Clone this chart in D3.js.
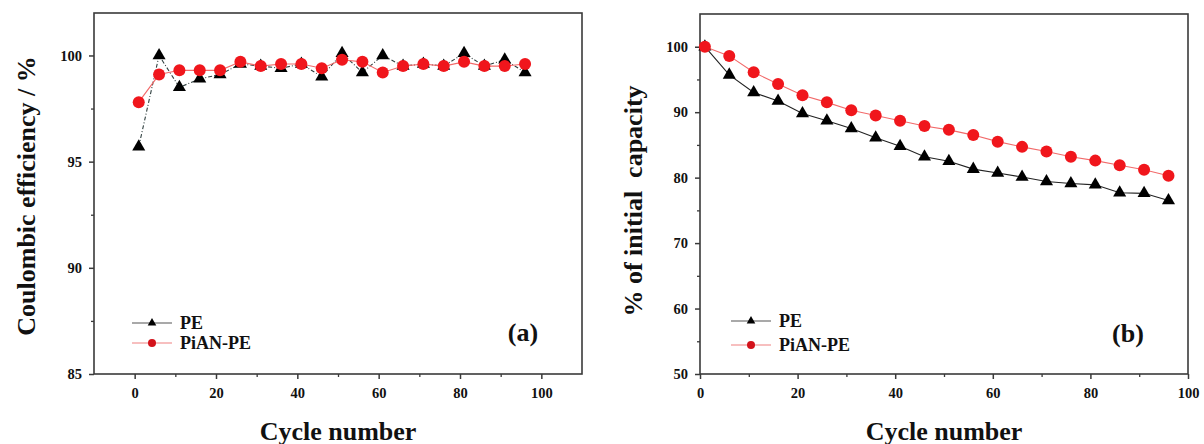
<!DOCTYPE html>
<html>
<head>
<meta charset="utf-8">
<script src="https://cdn.jsdelivr.net/npm/d3@7/dist/d3.min.js"></script>
<style>
  html, body { margin: 0; padding: 0; background: #ffffff; }
  svg { display: block; }
  text { font-family: "Liberation Serif", "Times New Roman", serif; font-weight: bold; fill: #111; }
</style>
</head>
<body>
<svg id="chart" width="1204" height="444"></svg>
<script>
// ---------- data ----------
const cycles = [1, 6, 11, 16, 21, 26, 31, 36, 41, 46, 51, 56, 61, 66, 71, 76, 81, 86, 91, 96];

// panel (a): coulombic efficiency, %
const cePE    = [95.7, 100.0, 98.5, 98.9, 99.1, 99.6, 99.5, 99.4, 99.6, 99.0, 100.1, 99.2, 100.0, 99.5, 99.6, 99.5, 100.1, 99.5, 99.8, 99.2];
const cePiAN  = [97.8, 99.1, 99.3, 99.3, 99.3, 99.7, 99.5, 99.6, 99.6, 99.4, 99.8, 99.7, 99.2, 99.5, 99.6, 99.5, 99.7, 99.5, 99.5, 99.6];

// panel (b): % of initial capacity
const capPE   = [100.0, 95.7, 93.0, 91.7, 89.8, 88.7, 87.5, 86.1, 84.8, 83.2, 82.5, 81.3, 80.7, 80.1, 79.4, 79.1, 78.9, 77.7, 77.6, 76.5];
const capPiAN = [100.0, 98.6, 96.1, 94.3, 92.6, 91.5, 90.3, 89.5, 88.7, 87.9, 87.3, 86.5, 85.5, 84.7, 84.0, 83.2, 82.6, 81.9, 81.2, 80.3];

const seriesNames = ["PE", "PiAN-PE"];
const xTicksA = [0, 20, 40, 60, 80, 100];
const xMinorA = [10, 30, 50, 70, 90];
const yTicksA = [85, 90, 95, 100];
const yMinorA = [87.5, 92.5, 97.5];
const xTicksB = [0, 20, 40, 60, 80, 100];
const xMinorB = [10, 30, 50, 70, 90];
const yTicksB = [50, 60, 70, 80, 90, 100];
const yMinorB = [55, 65, 75, 85, 95];

// ---------- drawing ----------
const svg = d3.select("#chart");
const axisColor = "#3a3a3a";

function panel(cfg) {
  const g = svg.append("g");
  const x = d3.scaleLinear().domain(cfg.xDomain).range([cfg.left, cfg.right]);
  const y = d3.scaleLinear().domain(cfg.yDomain).range([cfg.bottom, cfg.top]);

  // frame
  g.append("rect")
    .attr("x", cfg.left).attr("y", cfg.top)
    .attr("width", cfg.right - cfg.left).attr("height", cfg.bottom - cfg.top)
    .attr("fill", "none").attr("stroke", axisColor).attr("stroke-width", 1.6);

  // minor ticks
  g.append("g").attr("transform", `translate(0,${cfg.bottom})`)
    .call(d3.axisBottom(x).tickValues(cfg.xMinor).tickSize(3).tickFormat(""))
    .call(a => a.select(".domain").remove())
    .call(a => a.selectAll("line").attr("stroke", axisColor).attr("stroke-width", 1.3));
  g.append("g").attr("transform", `translate(${cfg.left},0)`)
    .call(d3.axisLeft(y).tickValues(cfg.yMinor).tickSize(3).tickFormat(""))
    .call(a => a.select(".domain").remove())
    .call(a => a.selectAll("line").attr("stroke", axisColor).attr("stroke-width", 1.3));

  // major ticks
  g.append("g").attr("transform", `translate(0,${cfg.bottom})`)
    .call(d3.axisBottom(x).tickValues(cfg.xTicks).tickSize(5).tickPadding(9).tickFormat(d3.format("d")))
    .call(a => a.select(".domain").remove())
    .call(a => a.selectAll("line").attr("stroke", axisColor).attr("stroke-width", 1.5))
    .call(a => a.selectAll("text").attr("font-size", 14.5).attr("font-family", "Liberation Serif").attr("font-weight", "bold").attr("fill", "#111"));
  g.append("g").attr("transform", `translate(${cfg.left},0)`)
    .call(d3.axisLeft(y).tickValues(cfg.yTicks).tickSize(5).tickPadding(7).tickFormat(d3.format("d")))
    .call(a => a.select(".domain").remove())
    .call(a => a.selectAll("line").attr("stroke", axisColor).attr("stroke-width", 1.5))
    .call(a => a.selectAll("text").attr("font-size", 14.5).attr("font-family", "Liberation Serif").attr("font-weight", "bold").attr("fill", "#111"));

  const tri = d3.symbol().type(d3.symbolTriangle).size(74);
  const triSmall = d3.symbol().type(d3.symbolTriangle).size(32);

  // PE series
  const line = d3.line().x((d, i) => x(cycles[i])).y(d => y(d));
  g.append("path").datum(cfg.pe).attr("d", line)
    .attr("fill", "none").attr("stroke", cfg.peLine).attr("stroke-width", 1.1)
    .attr("stroke-dasharray", cfg.peDash || null);
  g.append("g").selectAll("path").data(cfg.pe).join("path")
    .attr("d", tri)
    .attr("transform", (d, i) => `translate(${x(cycles[i])},${y(d)})`)
    .attr("fill", "#000");

  // PiAN-PE series
  g.append("path").datum(cfg.pian).attr("d", line)
    .attr("fill", "none").attr("stroke", "#f26a6a").attr("stroke-width", 1.1);
  g.append("g").selectAll("circle").data(cfg.pian).join("circle")
    .attr("cx", (d, i) => x(cycles[i])).attr("cy", d => y(d)).attr("r", 6)
    .attr("fill", "#f0161c");

  // legend
  const lg = g.append("g");
  const items = [
    { name: seriesNames[0], y: cfg.legY[0], color: "#555", kind: "tri" },
    { name: seriesNames[1], y: cfg.legY[1], color: "#f08080", kind: "circ" }
  ];
  items.forEach(it => {
    lg.append("line").attr("x1", cfg.legX).attr("x2", cfg.legX + 40)
      .attr("y1", it.y).attr("y2", it.y).attr("stroke", it.color).attr("stroke-width", 1.2);
    if (it.kind === "tri") {
      lg.append("path").attr("d", triSmall).attr("transform", `translate(${cfg.legX + 20},${it.y})`).attr("fill", "#000");
    } else {
      lg.append("circle").attr("cx", cfg.legX + 20).attr("cy", it.y).attr("r", 4).attr("fill", "#d3121a");
    }
    lg.append("text").attr("x", cfg.legX + 48).attr("y", it.y)
      .attr("dominant-baseline", "central").attr("font-size", 18).text(it.name);
  });

  // panel label
  g.append("text").attr("x", cfg.tagX).attr("y", cfg.tagY)
    .attr("text-anchor", "middle").attr("dominant-baseline", "central")
    .attr("font-size", 26).text(cfg.tag);

  // axis titles
  g.append("text").attr("x", (cfg.left + cfg.right) / 2).attr("y", 431)
    .attr("text-anchor", "middle").attr("dominant-baseline", "central")
    .attr("font-size", 26).text("Cycle number");
  g.append("text")
    .attr("transform", `translate(${cfg.yTitleX},${cfg.yTitleY}) rotate(-90)`)
    .attr("text-anchor", "middle").attr("dominant-baseline", "central")
    .attr("font-size", cfg.yTitleSize).style("white-space", "pre")
    .text(cfg.yTitle);
}

panel({
  left: 94, right: 582, top: 13, bottom: 374,
  xDomain: [-10, 110], yDomain: [85, 102],
  xTicks: xTicksA, xMinor: xMinorA, yTicks: yTicksA, yMinor: yMinorA,
  pe: cePE, pian: cePiAN, peLine: "#2f3f3f", peDash: "4,2,1,2",
  legX: 132, legY: [323, 343],
  tag: "(a)", tagX: 523, tagY: 332,
  yTitle: "Coulombic efficiency / %", yTitleX: 26, yTitleY: 196, yTitleSize: 26
});

panel({
  left: 700, right: 1188, top: 14, bottom: 374,
  xDomain: [0, 100], yDomain: [50, 105],
  xTicks: xTicksB, xMinor: xMinorB, yTicks: yTicksB, yMinor: yMinorB,
  pe: capPE, pian: capPiAN, peLine: "#222",
  legX: 731, legY: [321, 345],
  tag: "(b)", tagX: 1128, tagY: 333,
  yTitle: "% of initial  capacity", yTitleX: 633, yTitleY: 201, yTitleSize: 26
});
</script>
</body>
</html>
